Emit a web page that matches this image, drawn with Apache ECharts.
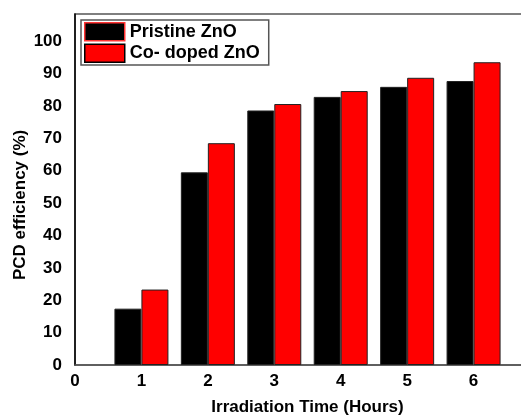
<!DOCTYPE html>
<html><head><meta charset="utf-8">
<script src="https://cdn.jsdelivr.net/npm/echarts@6/dist/echarts.min.js"></script>
<style>html,body{margin:0;padding:0;background:#fff}#c{width:521px;height:415px}</style>
</head><body><div id="c"></div>
<script>
const hours = [1, 2, 3, 4, 5, 6];
const pristine = [17.4, 59.5, 78.6, 82.8, 85.9, 87.7];
const codoped = [23.3, 68.5, 80.6, 84.6, 88.7, 93.5];
const yTicks = [0, 10, 20, 30, 40, 50, 60, 70, 80, 90, 100];
const seriesNames = ['Pristine ZnO', 'Co- doped ZnO'];

const chart = echarts.init(document.getElementById('c'));
const font = 'Liberation Sans, Arial, sans-serif';
chart.setOption({
  animation: false,
  grid: {left: 75, width: 465, top: 14, height: 351, outerBoundsMode: 'none', containLabel: false,
    show: true, borderColor: '#555', borderWidth: 1.5, backgroundColor: 'transparent'},
  legend: {
    orient: 'vertical', left: 81, top: 20, padding: [2, 9, 2, 3], itemGap: 2,
    itemWidth: 40, itemHeight: 18,
    borderColor: '#555', borderWidth: 1.5,
    textStyle: {fontFamily: font, fontSize: 18, fontWeight: 'bold', color: '#000'},
    data: [
      {name: seriesNames[0], icon: 'rect', itemStyle: {color: '#000', borderColor: '#ff3333', borderWidth: 1.5}},
      {name: seriesNames[1], icon: 'rect', itemStyle: {color: '#ff0000', borderColor: '#000', borderWidth: 1.5}}
    ]
  },
  xAxis: {
    type: 'value', min: 0, max: 7, interval: 1,
    name: 'Irradiation Time (Hours)', nameLocation: 'middle', nameGap: 34,
    nameTextStyle: {fontFamily: font, fontSize: 17, fontWeight: 'bold', color: '#000'},
    axisLine: {show: true, lineStyle: {color: '#555', width: 1.5}},
    axisTick: {show: false},
    splitLine: {show: false},
    axisLabel: {fontFamily: font, fontSize: 17, fontWeight: 'bold', color: '#000', margin: 8,
      formatter: v => (v <= 6 ? String(v) : '')}
  },
  yAxis: {
    type: 'value', min: 0, max: 108.4, interval: 10,
    axisLine: {show: true, lineStyle: {color: '#000', width: 1.5}},
    axisTick: {show: false},
    splitLine: {show: false},
    axisLabel: {fontFamily: font, fontSize: 17, fontWeight: 'bold', color: '#000', margin: 13,
      formatter: v => (yTicks.indexOf(v) >= 0 ? String(v) : '')}
  },
  graphic: [{
    type: 'text', rotation: Math.PI / 2, x: 12, y: 280,
    style: {text: 'PCD efficiency (%)', font: 'bold 17px ' + font, fill: '#000'}
  }],
  series: [
    {name: seriesNames[0], type: 'bar', barWidth: 27, barGap: '0%',
      itemStyle: {color: '#000', borderColor: '#222', borderWidth: 1},
      data: hours.map((h, i) => [h, pristine[i]])},
    {name: seriesNames[1], type: 'bar', barWidth: 27, barGap: '0%',
      itemStyle: {color: '#ff0000', borderColor: '#222', borderWidth: 1},
      data: hours.map((h, i) => [h, codoped[i]])}
  ]
});
</script></body></html>
